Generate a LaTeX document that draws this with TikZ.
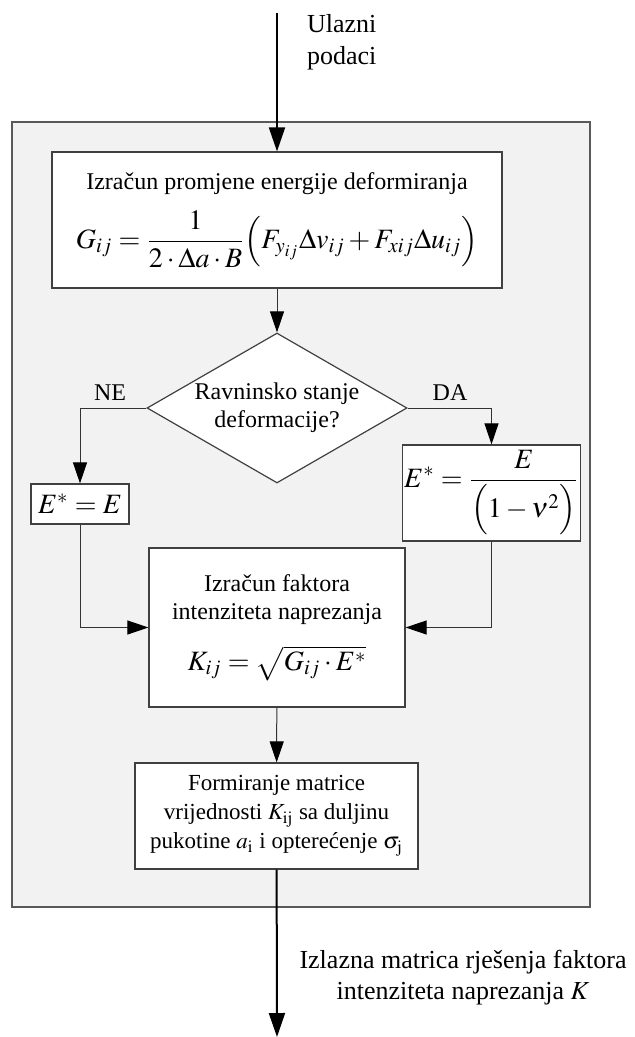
\documentclass[tikz,border=0pt]{standalone}
\usepackage{mathptmx}
\usepackage{fontspec}
\setmainfont{Liberation Serif}
\usepackage{tikz}
\usetikzlibrary{arrows.meta, positioning, shapes.geometric, calc}

\newcommand{\eqsize}{\fontsize{14}{17}\selectfont}

\tikzset{
  block/.style={draw=black!75, line width=0.6pt, fill=white, inner sep=2pt,
    align=center, font=\fontsize{12}{14}\selectfont},
  ifbox/.style={diamond, draw=black!75, line width=0.6pt, fill=white, inner sep=0pt,
    aspect=1.733, minimum width=130pt, minimum height=75pt,
    align=center, font=\fontsize{12}{14}\selectfont},
  line/.style={draw=black!80, line width=0.5pt},
  arr/.style={line, -{Triangle[length=10.5pt,width=7pt,black]}},
  mainarr/.style={draw=black, line width=1pt, -{Triangle[length=12pt,width=8pt]}},
  lbl/.style={font=\fontsize{12}{14}\selectfont},
}

\begin{document}
\begin{tikzpicture}[x=0.5pt, y=-0.5pt]
    \useasboundingbox (0,0) rectangle (635,1037);

    % grey frame
    \draw[draw=black!65, line width=0.7pt, fill=black!5] (12,122) rectangle (590,907);

    \coordinate (in) at (277,13);
    \coordinate (out) at (277,1037);
    \node[anchor=west, align=left, font=\fontsize{13}{16}\selectfont] (inlbl) at (300,42) {Ulazni\\podaci};

    \node[block, minimum width=225pt, minimum height=68pt] (energy) at (277,220)
      {Izračun promjene energije deformiranja\\[7pt]
       {\eqsize$\displaystyle G_{ij}=\frac{1}{2\cdot\Delta a\cdot B}\Bigl(F_{y_{ij}}\Delta v_{ij}+F_{xij}\Delta u_{ij}\Bigr)$}};

    \node[ifbox] (plane) at (277,408) {Ravninsko stanje\\deformacije?};

    \node[block, minimum width=49pt, minimum height=20pt, inner sep=1pt] (eNE) at (80,504)
      {\eqsize$E^{*}=E$};
    \node[block, minimum width=82.5pt, minimum height=48pt, inner sep=1pt] (eDA) at (491.5,493)
      {\eqsize$\displaystyle E^{*}=\frac{E}{\Bigl(1-\nu^{2}\Bigr)}$};

    \node[block, minimum width=128pt, minimum height=79.5pt] (kfac) at (277,627.5)
      {Izračun faktora\\intenziteta naprezanja\\[10pt]
       {\eqsize$K_{ij}=\sqrt{G_{ij}\cdot E^{*}}$}};

    \node[block, minimum width=141.5pt, minimum height=53pt, inner sep=1pt,
      font=\fontsize{11.5}{14.5}\selectfont] (kmat) at (276.5,816)
      {Formiranje matrice\\
       vrijednosti $K_{\mathrm{ij}}$ sa duljinu\\
       pukotine $a_{\mathrm{i}}$ i opterećenje $\sigma_{\mathrm{j}}$};

    \node[align=center, font=\fontsize{13}{15.5}\selectfont] (outlbl) at (463,978)
      {Izlazna matrica rješenja faktora\\intenziteta naprezanja $K$};

    \draw[mainarr] (in) -- (energy.north);
    \draw[arr] (energy) -- (plane);
    \draw[arr] (plane.west) -| (eNE.north);
    \draw[arr] (plane.east) -| (eDA.north);
    \node[lbl, anchor=base] (ne) at (110,400) {NE};
    \node[lbl, anchor=base] (da) at (450,400) {DA};
    \draw[arr] (eNE.south) |- (kfac.west);
    \draw[arr] (eDA.south) |- (kfac.east);
    \draw[arr] (kfac) -- (kmat);
    \draw[mainarr] (kmat) -- (out);
\end{tikzpicture}
\end{document}
